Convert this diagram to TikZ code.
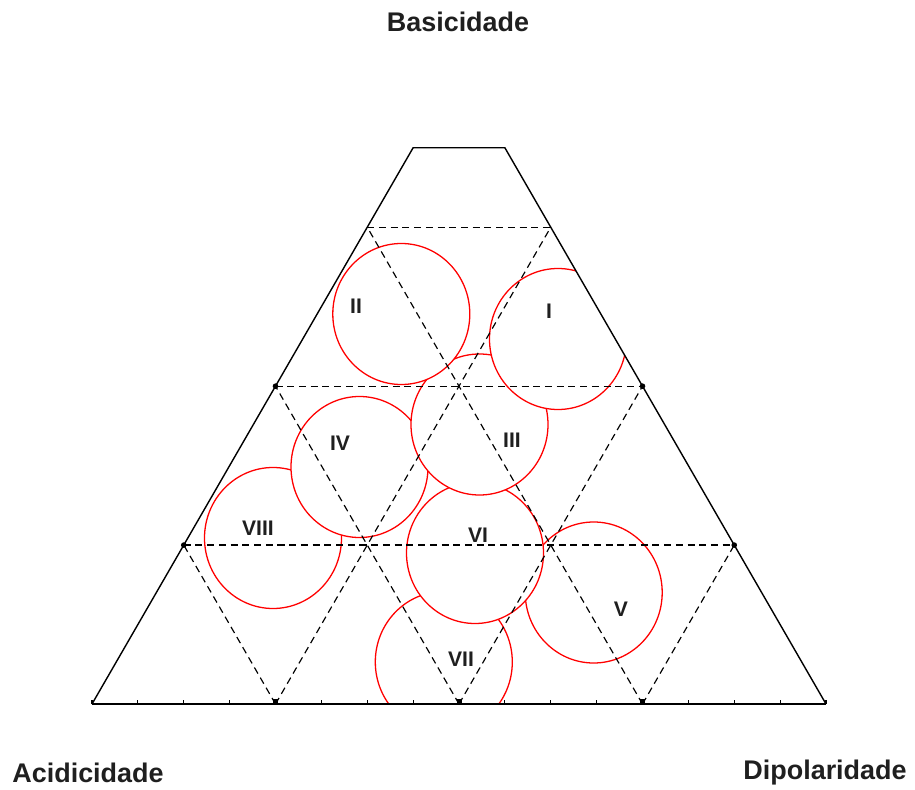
\documentclass[tikz,border=0pt]{standalone}
\usepackage{fontspec}
\setmainfont{Liberation Sans}
\usetikzlibrary{calc}
\def\regiao(#1){\draw[circulo] (#1) ellipse (68.5 and 70.5);}

\begin{document}
\begin{tikzpicture}[x=0.03cm, y=-0.03cm,
		circulo/.style={draw=red, line width=1.1pt, fill=white},
		grade/.style={line width=1pt, dash pattern=on 6pt off 4pt},
		rotulo/.style={font=\bfseries\fontsize{18}{18}\selectfont, text=black!88, inner sep=0pt},
		eixo/.style={font=\bfseries\fontsize{23}{23}\selectfont, text=black!88, inner sep=0pt}]
			%%%%% START %%%%%
			\useasboundingbox (0,0) rectangle (915,790);
			
			\coordinate (A) at (92,704);
			\coordinate (B) at (826,704);
			\coordinate (C) at (459,68.3);
			\coordinate (Tl) at ($(A)!0.875!(C)$);
			\coordinate (Tr) at ($(B)!0.875!(C)$);
			
			\begin{scope}
				\clip (A) -- (B) -- (Tr) -- (Tl) -- cycle;
				
				\regiao(273,538)
				\regiao(359.5,467)
				\regiao(593.7,592.5)
				\regiao(443.8,662)
				\regiao(475,553)
				\regiao(479.5,424.5)
				\regiao(558,339)
				\regiao(401.3,314)
				
				\foreach \f [evaluate=\f as \g using 1-\f] in {0.25,0.5,0.75} {
					\draw[grade] ($(A)!\f!(C)$) -- ($(B)!\f!(C)$);
					\draw[grade] ($(A)!\f!(B)$) -- ($(B)!\g!(C)$);
					\draw[grade] ($(A)!\f!(B)$) -- ($(A)!\f!(C)$);
				}
			\end{scope}
			
			\draw[line width=1.2pt] (A) -- (Tl) -- (Tr) -- (B);
			\draw[line width=1.8pt] (A) -- (B);
			
			\foreach \i [evaluate=\i as \t using \i/16] in {0,...,16}
				\draw[line width=0.9pt] ($(A)!\t!(B)$) -- ++(0,-4);
			\foreach \i in {0.25,0.5,0.75}
				\fill ($(A)!\i!(B)$) ++(-2.5,0) rectangle ++(5,-5);
			\foreach \i in {0.25,0.5} {
				\fill ($(A)!\i!(C)$) circle (2.8);
				\fill ($(B)!\i!(C)$) circle (2.8);
			}
			
			\node[rotulo] (II) at (356,306) {II};
			\node[rotulo] (I) at (549,311) {I};
			\node[rotulo] (III) at (512,440) {III};
			\node[rotulo] (IV) at (340,443) {IV};
			\node[rotulo] (VIII) at (258,528) {VIII};
			\node[rotulo] (VI) at (478,535) {VI};
			\node[rotulo] (V) at (621,609) {V};
			\node[rotulo] (VII) at (461,659) {VII};
			
			\node[eixo] (basic) at (458,22) {Basicidade};
			\node[eixo] (acid) at (88,773) {Acidicidade};
			\node[eixo] (dipol) at (825,773) {Dipolaridade};
			%%%%% END %%%%%
\end{tikzpicture}
\end{document}
